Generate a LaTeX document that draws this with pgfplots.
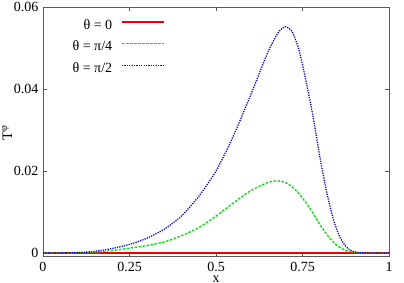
\documentclass[border=0pt]{standalone}
\usepackage{fontspec}
\setmainfont{Liberation Serif}
\usepackage{pgfplots}
\pgfplotsset{compat=1.18}
\definecolor{framegray}{RGB}{90,90,90}
\definecolor{gpred}{RGB}{240,0,0}
\definecolor{gpgreen}{RGB}{0,225,0}
\definecolor{gpblue}{RGB}{0,0,235}
\begin{document}
\begin{tikzpicture}
\path[use as bounding box] (-43pt,-26.5pt) rectangle (361pt,256.5pt);
\begin{axis}[
  scale only axis,
  width=346pt, height=249.5pt,
  at={(0,0)}, anchor=south west,
  xmin=0, xmax=1, ymin=-0.00085, ymax=0.06,
  xtick={0,0.25,0.5,0.75,1},
  xticklabels={0,0.25,0.5,0.75,1},
  ytick={0,0.02,0.04,0.06},
  yticklabels={0,0.02,0.04,0.06},
  scaled y ticks=false, scaled x ticks=false,
  tick align=inside,
  major tick length=4pt,
  tick style={color=framegray, line width=0.6pt},
  axis line style={color=framegray, line width=0.8pt},
  /pgf/number format/assume math mode=true,
  tick label style={font=\fontsize{14}{16}\selectfont, text=black},
  xticklabel style={inner sep=1pt, yshift=-4.2pt},
  yticklabel style={xshift=-1pt},
  xlabel={x},
  ylabel={T\textsuperscript{φ}},
  every axis x label/.style={at={(axis description cs:0.5,-0.091)}, anchor=center,
    inner sep=0pt, font=\fontsize{14}{16}\selectfont},
  every axis y label/.style={at={(axis description cs:-0.104,0.494)}, anchor=center, rotate=90,
    font=\fontsize{14.5}{16}\selectfont},
  legend cell align=right,
  legend plot pos=right,
  legend style={draw=none, fill=none, at={(axis description cs:0.3613,0.9647)}, anchor=north east,
    font=\fontsize{14}{16}\selectfont, row sep=6.7pt,
    nodes={inner sep=1pt, text height=10pt, text depth=3pt}},
]
\addlegendimage{legend image code/.code={\draw[gpred, line width=1.6pt] (0pt,3.5pt) (8pt,3.5pt) -- (50pt,3.5pt);}}
\addlegendentry{θ = 0}
\addlegendimage{legend image code/.code={\path (0pt,3.5pt); \draw[gpgreen, line width=1.3pt, dash pattern=on 2.5pt off 1.5pt] (8pt,3.5pt) -- (50pt,3.5pt);}}
\addlegendentry{θ = π/4}
\addlegendimage{legend image code/.code={\path (0pt,3.5pt); \draw[gpblue, line width=1.3pt, dash pattern=on 1.2pt off 1.2pt] (8pt,3.5pt) -- (50pt,3.5pt);}}
\addlegendentry{θ = π/2}
\addplot[gpred, line width=1.6pt, forget plot] coordinates {
(0,0) (0.25,0) (0.5,0) (0.75,0) (1,0)};
\addplot[gpgreen, line width=1.3pt, dash pattern=on 2.5pt off 1.5pt, smooth, tension=0.4, forget plot] coordinates {
(0,0) (0.05,0.00001) (0.1,0.00005) (0.15,0.0002) (0.2,0.0006) (0.25,0.0012) (0.3,0.0018)
(0.35,0.0027) (0.4,0.0042) (0.45,0.0062) (0.5,0.0090) (0.55,0.0122) (0.6,0.0152)
(0.65,0.0172) (0.675,0.0176) (0.70,0.0172) (0.725,0.0158) (0.75,0.0134) (0.775,0.0104)
(0.80,0.0070) (0.825,0.0040) (0.85,0.0018) (0.875,0.0006) (0.9,0.00015) (0.925,0.00002)
(0.95,0) (1,0)};
\addplot[gpblue, line width=1.3pt, dash pattern=on 1.2pt off 1.2pt, smooth, tension=0.4, forget plot] coordinates {
(0,0) (0.05,0.00002) (0.1,0.0001) (0.15,0.0004) (0.2,0.0011) (0.25,0.0021) (0.3,0.0036)
(0.35,0.0058) (0.4,0.0090) (0.45,0.0138) (0.5,0.0200) (0.55,0.0285) (0.6,0.0385)
(0.65,0.0490) (0.68,0.0538) (0.70,0.0552) (0.72,0.0540) (0.74,0.0495) (0.76,0.0420)
(0.78,0.0335) (0.80,0.0235) (0.82,0.0148) (0.84,0.0080) (0.86,0.0035) (0.88,0.0012)
(0.90,0.0003) (0.92,0.00005) (0.95,0) (1,0)};
\end{axis}
\end{tikzpicture}
\end{document}
